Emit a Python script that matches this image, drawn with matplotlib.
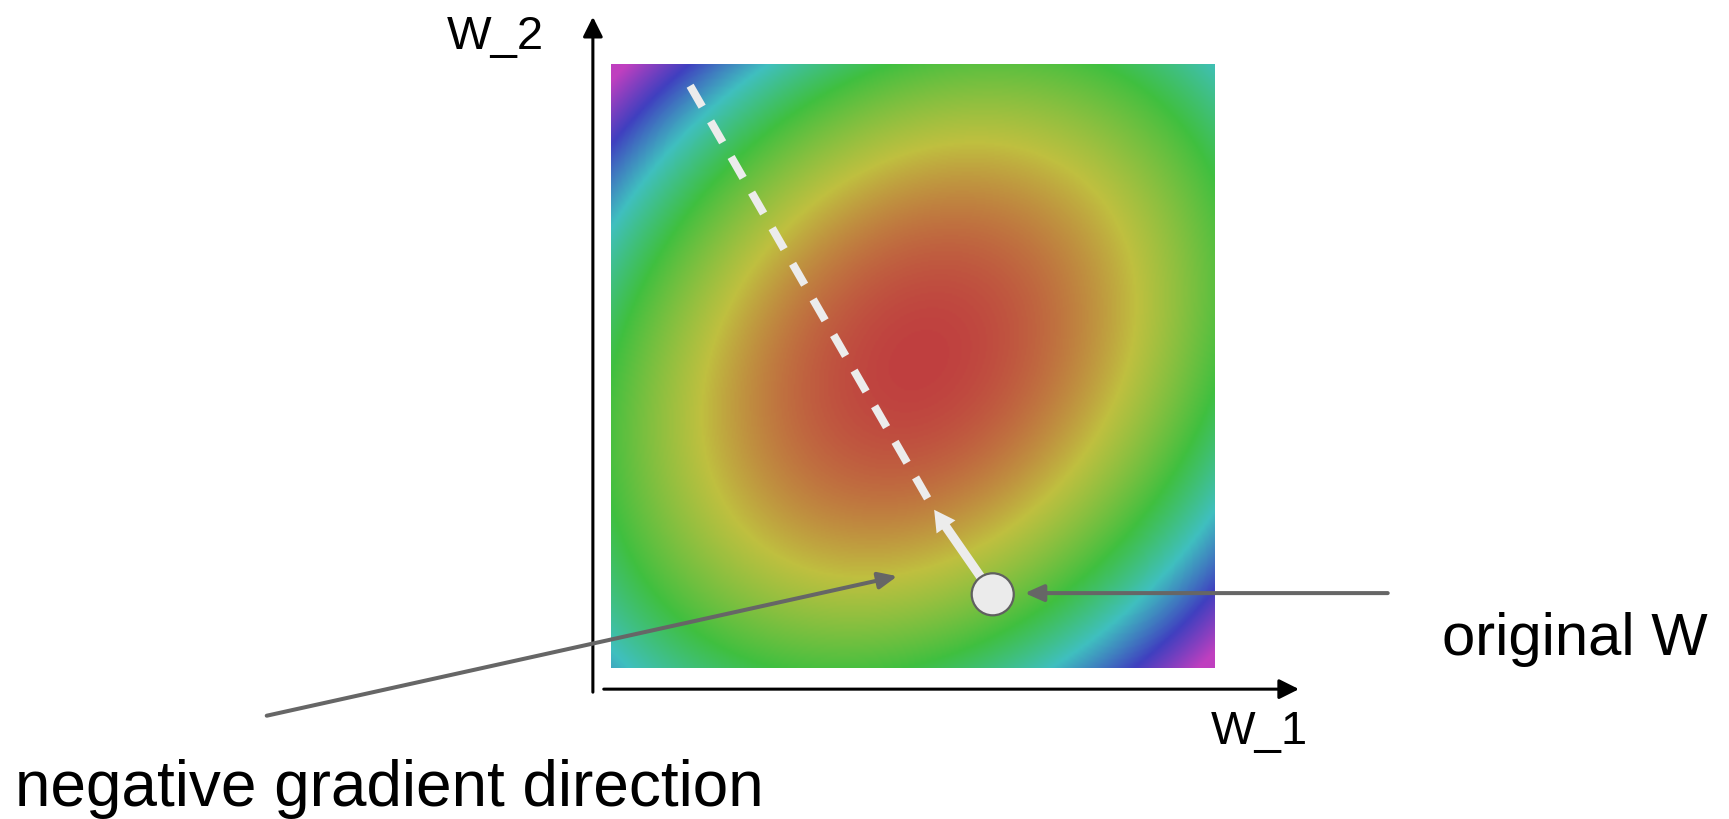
import matplotlib
matplotlib.use("Agg")
import matplotlib.pyplot as plt
import numpy as np
from matplotlib.colors import hsv_to_rgb, ListedColormap
from matplotlib.patches import Circle

plt.rcParams['font.family'] = ['Liberation Sans', 'DejaVu Sans']

# loss surface: elliptical bowl, long axis along the W_1 = W_2 diagonal
center = (0.51, 0.51)
axis_ratio = 1.3
# squared-distance levels -> hue (red, yellow, green, cyan, blue, magenta)
level_r = [0.0, 0.31, 0.45, 0.54, 0.62, 0.69]
level_hue = [0, 60, 120, 180, 240, 300]

# points of the picture, in W units (the square is W_1, W_2 in [0, 1])
w_orig = (0.632, 0.122)
step_tip = (0.535, 0.262)
line_top = (0.131, 0.964)
orig_label_from = (1.286, 0.124)
orig_label_tip = (0.685, 0.124)
neg_label_from = (-0.570, -0.079)
neg_label_tip = (0.474, 0.152)

n = 400
w1 = np.linspace(0, 1, n)
w2 = np.linspace(0, 1, n)
W1, W2 = np.meshgrid(w1, w2)
d1 = W1 - center[0]
d2 = W2 - center[1]
u = (d1 + d2) / np.sqrt(2)
v = (d2 - d1) / np.sqrt(2)
Z = (u / axis_ratio) ** 2 + v ** 2
hue = np.interp(Z, np.array(level_r) ** 2, level_hue)

hh = np.linspace(0, 300, 256) / 360.0
cmap = ListedColormap(hsv_to_rgb(np.stack([hh, np.full_like(hh, 0.667),
                                           np.full_like(hh, 0.75)], axis=1)))

fig = plt.figure(figsize=(17.29, 8.2), dpi=100)
ax = fig.add_axes([0, 0, 1, 1])
ax.set_xlim(-611 / 604, 1118 / 604)
ax.set_ylim(-151 / 604, 669 / 604)
ax.axis('off')

ax.imshow(hue, cmap=cmap, vmin=0, vmax=300, origin='lower',
          extent=[0, 1, 0, 1], interpolation='bilinear', aspect='auto', zorder=1)

# coordinate axes
axstyle = dict(arrowstyle='-|>,head_length=0.4,head_width=0.2', lw=2.2,
               color='black', mutation_scale=30, shrinkA=0, shrinkB=0)
ax.annotate('', xy=(-0.030, 1.078), xytext=(-0.030, -0.040), arrowprops=axstyle)
ax.annotate('', xy=(1.139, -0.035), xytext=(-0.012, -0.035), arrowprops=axstyle)
ax.text(-0.2715, 1.0265, 'W_2', fontsize=34, ha='left', va='baseline')
ax.text(0.9934, -0.124, 'W_1', fontsize=34, ha='left', va='baseline')

# dashed continuation of the step
ax.plot([line_top[0], step_tip[0]], [line_top[1], step_tip[1]], color='#ececec',
        lw=5.8, dashes=(3, 2.1), zorder=3)
ax.annotate('', xy=step_tip, xytext=w_orig,
            arrowprops=dict(arrowstyle='simple,head_length=0.5,head_width=0.55,tail_width=0.22',
                            mutation_scale=30, fc='#ececec', ec='none', lw=0,
                            shrinkA=0, shrinkB=0), zorder=4)
ax.add_patch(Circle(w_orig, 0.0348, fc='#ebebeb', ec='#606060', lw=1.6, zorder=5))

# pointers to the labels
pstyle = dict(arrowstyle='-|>,head_length=0.45,head_width=0.2', lw=2.9,
              color='#666666', mutation_scale=25, shrinkA=0, shrinkB=0)
ax.annotate('', xy=orig_label_tip, xytext=orig_label_from, arrowprops=pstyle, zorder=6)
ax.annotate('', xy=neg_label_tip, xytext=neg_label_from, arrowprops=pstyle, zorder=6)

ax.text(1.3758, 0.0232, 'original W', fontsize=43, ha='left', va='baseline')
ax.text(-0.9868, -0.2268, 'negative gradient direction', fontsize=46,
        ha='left', va='baseline')

fig.savefig('out.png', dpi=100)
